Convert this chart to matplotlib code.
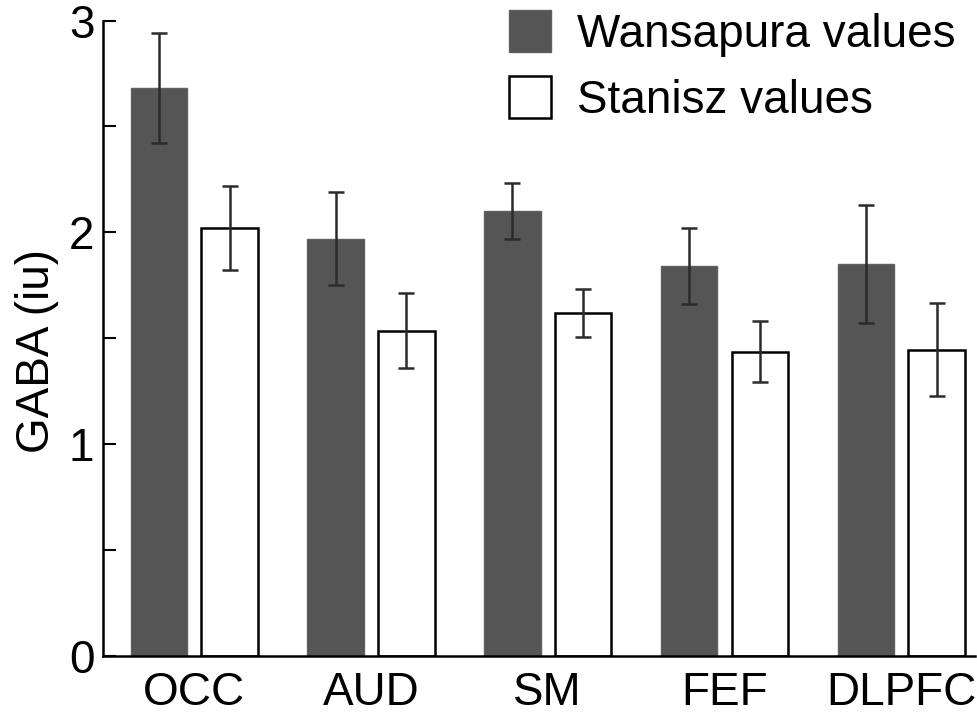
import numpy as np
import matplotlib
matplotlib.use("Agg")
import matplotlib.pyplot as plt
from matplotlib.patches import Patch

plt.rcParams['font.family'] = ['Liberation Sans', 'DejaVu Sans']

regions = ["OCC", "AUD", "SM", "FEF", "DLPFC"]
wansapura = [2.68, 1.97, 2.10, 1.84, 1.85]
wansapura_err = [0.26, 0.22, 0.134, 0.178, 0.28]
stanisz = [2.02, 1.535, 1.617, 1.436, 1.445]
stanisz_err = [0.20, 0.177, 0.113, 0.145, 0.22]

x = np.arange(len(regions))
w = 0.32
dark = "#555555"
fs = 33

fig = plt.figure(figsize=(9.77, 7.13), dpi=100)
ax = fig.add_axes([0.1051, 0.0806, 0.893, 0.8904])

err_kw = dict(ecolor="#2b2b2b", elinewidth=1.8, capsize=5.5, capthick=1.8)
ax.bar(x - 0.2, wansapura, w, yerr=wansapura_err, color=dark,
       edgecolor="#606060", linewidth=1, error_kw=err_kw)
ax.bar(x + 0.2, stanisz, w, yerr=stanisz_err, color="white",
       edgecolor="black", linewidth=1.8, error_kw=err_kw)

ax.set_xlim(-0.518, 4.418)
ax.set_ylim(0, 3)
ax.set_yticks([0, 0.5, 1, 1.5, 2, 2.5, 3])
ax.set_yticklabels(["0", "", "1", "", "2", "", "3"])
ax.set_xticks(x)
ax.set_xticklabels(regions)
ax.tick_params(axis="y", direction="in", length=9, width=1.5, labelsize=fs, pad=6)
ax.tick_params(axis="x", length=0, labelsize=fs, pad=11)
ax.set_ylabel("GABA (iu)", fontsize=fs)
ax.yaxis.set_label_coords(-0.05, 0.48)

for s in ["top", "right"]:
    ax.spines[s].set_visible(False)
for s in ["left", "bottom"]:
    ax.spines[s].set_linewidth(1.8)

handles = [Patch(facecolor=dark, edgecolor="#606060", label="Wansapura values"),
           Patch(facecolor="white", edgecolor="black", linewidth=1.8, label="Stanisz values")]
ax.legend(handles=handles, loc="upper right", bbox_to_anchor=(0.998, 1.045),
          frameon=False, fontsize=fs, handlelength=0.92, handleheight=1.03,
          handletextpad=0.55, labelspacing=0.42, borderaxespad=0)

fig.savefig("out.png", dpi=100)
